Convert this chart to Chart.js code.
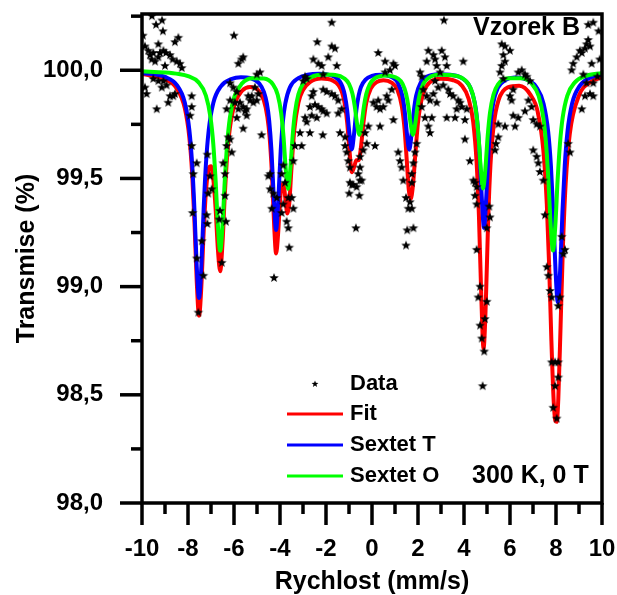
<!DOCTYPE html>
<html>
<head>
<meta charset="utf-8">
<script src="https://cdn.jsdelivr.net/npm/chart.js@4.4.1/dist/chart.umd.min.js"></script>
<style>
  html, body { margin: 0; padding: 0; background: #fff; }
  #chart { display: block; }
</style>
</head>
<body>
<canvas id="chart" width="617" height="595"></canvas>
<script>
// axis ticks
const xMajor = [-10, -8, -6, -4, -2, 0, 2, 4, 6, 8, 10];
const xMinor = [-9, -7, -5, -3, -1, 1, 3, 5, 7, 9];
const yMajor = [98.0, 98.5, 99.0, 99.5, 100.0];
const yMinor = [98.25, 98.75, 99.25, 99.75, 100.25];

// measured points (stars)
const dataX = [
  -9.57,-9.39,-9.13,-9.09,-9.96,-9.87,-9.73,-9.65,-9.51,-9.58,-9.43,-9.29,-9.22,-9.29,-9.07,-8.96,-8.78,-8.67,-8.49,-8.35,-8.57,-8.42,-9.0,-8.27,
  -9.87,-9.80,-9.51,-9.29,-9.07,-9.14,-8.93,-8.78,-8.64,-8.86,-9.36,-8.57,-7.84,-7.91,-7.84,
  -7.84,-7.62,-7.77,-7.16,-7.04,-6.97,-7.12,
  -6.0,-5.81,-5.67,-5.60,-6.17,-6.03,-5.88,-6.17,-5.96,-6.32,-5.81,-5.74,-5.60,-5.45,-5.38,-5.30,-5.23,-5.16,-5.01,-4.94,-5.09,-4.87,-5.01,-5.52,-5.45,-5.88,-5.60,-6.25,-6.17,-6.32,-6.10,-6.47,-6.39,-4.80,-4.43,
  -7.80,-7.62,-7.55,-7.40,-7.33,-7.19,-7.16,-6.61,-6.64,-6.53,-6.35,-6.39,-4.43,-4.36,-4.26,-3.86,-3.71,-3.64,-3.60,-3.93,
  -4.51,-4.29,-4.14,-3.93,-3.78,-3.64,-3.86,
  -3.42,-3.49,-0.99,-0.88,-0.67,-0.55,-0.45,-0.70,1.48,1.65,1.73,1.58,1.53,1.80,1.48,1.73,
  -1.75,-2.38,-1.75,-1.61,-2.55,-2.33,-2.19,-1.90,-1.53,-2.12,-2.91,-2.99,-2.84,
  -2.12,-1.97,-1.75,-1.61,-1.47,-2.55,-2.62,-2.70,-2.48,-2.33,-2.19,-2.62,-2.91,-2.84,-2.40,-2.12,-1.97,-1.47,-1.32,-3.13,
  -2.70,-3.06,-3.35,-3.42,-2.14,-1.39,-1.17,-1.17,-1.10,-1.03,-0.96,-0.96,-0.81,-0.52,-0.60,-0.52,-0.52,-0.38,-0.23,-0.30,
  -0.16,0.13,0.35,0.06,0.20,0.27,0.35,0.49,0.64,0.71,0.86,0.57,0.27,0.57,0.78,0.93,1.0,0.93,
  1.14,1.22,1.29,1.36,1.73,1.80,1.87,1.94,2.09,2.16,2.38,2.45,2.67,2.74,2.81,2.23,2.38,2.52,2.16,2.30,2.45,2.60,2.52,2.67,2.81,2.88,2.74,
  3.13,3.03,3.17,3.97,3.25,2.96,3.10,3.32,3.39,3.53,3.75,3.83,3.90,3.25,3.68,3.61,4.04,4.12,4.04,4.26,
  4.41,4.55,5.64,5.78,6.0,5.71,5.78,5.64,5.57,5.71,6.0,6.14,6.07,6.51,6.36,6.65,6.73,6.87,6.14,6.36,
  6.65,6.80,6.94,7.01,7.16,7.30,5.78,5.49,5.49,5.39,5.35,6.22,7.01,7.16,7.23,7.30,7.45,8.53,8.61,8.75,
  8.68,8.90,9.04,9.12,9.26,9.33,9.40,9.48,9.55,9.40,9.62,9.19,9.33,9.48,9.62,9.26,9.12,9.62,9.85,9.9,9.8,
  4.48,4.48,4.55,5.10,5.13,4.99,4.55,4.70,4.62,4.99,4.70,4.91,4.77,4.88,4.81,
  7.52,7.60,7.67,8.25,8.39,8.32,7.74,7.81,8.17,8.10,7.81,7.96,8.10,7.96,7.88,8.03,8.10
];
const dataY = [
  100.25,100.21,100.23,100.18,100.16,100.11,100.09,100.07,100.08,100.05,100.04,100.06,100.08,100.12,100.09,100.08,100.07,100.05,100.04,100.03,100.13,100.15,100.02,100.01,
  99.92,99.89,99.96,99.95,99.95,99.92,99.93,99.88,99.88,99.85,99.82,99.89,99.88,99.79,99.83,
  99.65,99.57,99.52,99.61,99.51,99.45,99.43,
  100.16,100.03,100.05,100.06,99.94,99.92,99.90,99.86,99.85,99.82,99.82,99.85,99.83,99.82,99.88,99.86,99.88,99.85,99.86,99.89,99.92,99.99,99.98,99.81,99.79,99.78,99.73,99.69,99.68,99.65,99.62,99.57,99.52,99.70,99.52,
  99.34,99.13,98.88,99.21,99.05,99.33,99.29,99.35,99.31,99.11,99.30,99.42,99.45,99.36,99.04,99.38,99.30,99.27,99.18,99.34,
  99.51,99.43,99.41,99.52,99.48,99.41,99.56,
  99.36,99.41,99.43,99.47,99.46,99.42,99.49,99.27,99.41,99.39,99.36,99.36,99.26,99.27,99.19,99.48,
  100.22,100.13,100.11,100.10,100.05,100.03,100.02,100.06,100.02,99.98,99.97,99.95,99.96,
  99.91,99.90,99.89,99.88,99.86,99.90,99.88,99.83,99.84,99.83,99.82,99.79,99.78,99.76,99.78,99.81,99.80,99.80,99.82,99.71,
  99.71,99.65,99.65,99.58,99.70,99.71,99.69,99.65,99.62,99.58,99.55,99.48,99.47,99.49,99.52,99.55,99.60,99.63,99.66,99.71,
  99.74,99.65,99.74,99.85,99.83,99.86,99.82,99.83,99.88,99.86,99.91,99.99,100.08,100.04,100.0,100.03,100.02,99.77,
  99.62,99.58,99.55,99.49,99.52,99.57,99.62,99.66,99.99,99.97,100.04,100.09,100.07,100.05,100.02,99.91,99.88,99.86,99.83,99.78,99.74,99.78,99.71,99.89,99.85,99.92,99.95,
  100.23,100.09,100.06,100.04,100.02,99.99,99.93,99.91,99.89,99.88,99.86,99.85,99.83,99.78,99.82,99.78,99.77,99.82,99.68,99.58,
  99.49,99.46,100.12,100.11,100.09,100.07,100.04,100.02,99.99,99.96,99.88,99.91,99.86,100.0,99.99,99.98,99.97,99.95,99.79,99.78,
  99.81,99.86,99.83,99.77,99.75,99.74,99.74,99.75,99.69,99.66,99.63,99.74,99.63,99.60,99.57,99.53,99.49,99.66,99.62,100.03,
  100.0,100.06,100.09,100.08,100.10,100.12,100.14,100.11,100.03,100.21,100.22,99.98,99.94,99.89,99.88,99.88,99.82,99.94,100.18,100.05,99.97,
  99.48,99.42,99.38,99.37,99.32,99.27,99.17,99.0,98.95,98.93,98.82,98.85,98.76,98.70,98.54,
  99.33,99.09,99.05,99.23,99.17,99.15,98.98,98.95,98.95,98.91,98.65,98.65,98.58,98.54,98.44,98.39,98.65
];

// Fit (red)
const fitX = [
  -10,-9,-8.5,-8.14,-7.94,-7.82,-7.72,-7.62,-7.52,-7.42,-7.32,-7.22,-7.1,-7.0,-6.9,-6.8,-6.7,-6.6,-6.5,-6.4,
  -6.3,-6.18,-5.98,-5.65,-5.3,-5.0,-4.7,-4.55,-4.45,-4.35,-4.25,-4.17,-4.08,-4.0,-3.92,-3.84,-3.76,-3.68,-3.6,-3.5,
  -3.38,-3.2,-3.0,-2.7,-2.2,-1.7,-1.45,-1.3,-1.18,-1.08,-0.98,-0.88,-0.78,-0.68,-0.58,-0.48,-0.38,-0.25,-0.05,0.2,
  0.5,0.85,1.1,1.3,1.42,1.52,1.6,1.68,1.78,1.88,2.0,2.2,2.5,3.0,3.5,3.9,4.2,4.4,4.55,4.65,
  4.75,4.85,4.95,5.05,5.15,5.3,5.5,5.9,6.4,6.9,7.2,7.45,7.6,7.7,7.8,7.9,7.97,8.03,8.1,8.2,
  8.3,8.42,8.6,9.0,9.5,10
];
const fitY = [
  99.983,99.958,99.917,99.825,99.688,99.523,99.302,99.024,98.866,99.0,99.251,99.438,99.546,99.556,99.497,99.362,99.172,99.071,99.201,99.423,
  99.600,99.732,99.841,99.905,99.923,99.913,99.859,99.785,99.689,99.519,99.274,99.153,99.248,99.394,99.473,99.468,99.400,99.338,99.380,99.549,
  99.722,99.850,99.908,99.945,99.962,99.952,99.930,99.896,99.842,99.760,99.632,99.529,99.552,99.584,99.584,99.644,99.750,99.849,99.916,99.945,
  99.954,99.943,99.911,99.832,99.723,99.570,99.446,99.405,99.467,99.605,99.759,99.884,99.943,99.961,99.955,99.930,99.868,99.761,99.571,99.325,
  98.961,98.714,98.930,99.305,99.561,99.754,99.861,99.921,99.928,99.885,99.810,99.630,99.382,99.102,98.749,98.470,98.381,98.375,98.481,98.821,
  99.181,99.476,99.707,99.883,99.945,99.968
];

// Sextet T (blue)
const sextetTX = [
  -10,-9,-8.5,-8.14,-7.94,-7.82,-7.72,-7.62,-7.52,-7.42,-7.32,-7.22,-7.1,-6.9,-6.57,-6.12,-5.7,-5.3,-4.9,-4.7,
  -4.57,-4.47,-4.37,-4.27,-4.17,-4.07,-3.97,-3.87,-3.77,-3.57,-3.2,-2.8,-2.3,-1.9,-1.6,-1.4,-1.28,-1.18,-1.08,-0.98,
  -0.88,-0.78,-0.68,-0.58,-0.48,-0.28,0,0.37,0.65,0.92,1.12,1.32,1.42,1.52,1.62,1.72,1.82,1.92,2.12,2.4,
  2.9,3.4,3.8,4.1,4.27,4.47,4.57,4.67,4.77,4.87,4.97,5.07,5.17,5.27,5.47,5.8,6.2,6.6,6.9,7.13,
  7.46,7.66,7.78,7.88,7.98,8.08,8.18,8.28,8.38,8.5,8.7,9.03,9.48,10
];
const sextetTY = [
  99.988,99.969,99.934,99.851,99.723,99.567,99.357,99.092,98.947,99.092,99.357,99.567,99.722,99.849,99.926,99.959,99.968,99.964,99.939,99.900,
  99.846,99.767,99.627,99.408,99.262,99.408,99.627,99.768,99.846,99.921,99.964,99.979,99.984,99.980,99.968,99.949,99.923,99.884,99.815,99.707,
  99.634,99.707,99.815,99.884,99.923,99.957,99.974,99.979,99.976,99.965,99.943,99.882,99.813,99.705,99.633,99.705,99.813,99.882,99.944,99.971,
  99.982,99.979,99.970,99.948,99.921,99.849,99.772,99.633,99.417,99.272,99.417,99.632,99.771,99.848,99.918,99.955,99.966,99.961,99.947,99.925,
  99.845,99.716,99.557,99.343,99.074,98.927,99.074,99.344,99.558,99.717,99.847,99.928,99.965,99.981
];

// Sextet O (green)
const sextetOX = [
  -10,-9,-8.4,-8.0,-7.55,-7.22,-7.02,-6.9,-6.8,-6.7,-6.6,-6.5,-6.4,-6.3,-6.18,-5.98,-5.65,-5.2,-4.7,-4.3,
  -4.1,-3.95,-3.85,-3.75,-3.65,-3.55,-3.45,-3.35,-3.2,-3.0,-2.65,-2.1,-1.6,-1.2,-1.0,-0.85,-0.75,-0.65,-0.55,-0.45,
  -0.35,-0.25,-0.1,0.1,0.6,1.13,1.33,1.48,1.58,1.68,1.78,1.88,1.98,2.08,2.23,2.43,2.9,3.5,3.9,4.18,
  4.38,4.53,4.63,4.73,4.83,4.93,5.03,5.13,5.28,5.48,5.9,6.5,6.92,7.25,7.45,7.57,7.67,7.77,7.87,7.97,
  8.07,8.17,8.29,8.49,8.82,9.27,10
];
const sextetOY = [
  99.995,99.990,99.983,99.973,99.945,99.882,99.781,99.658,99.492,99.282,99.166,99.282,99.491,99.656,99.780,99.879,99.939,99.963,99.962,99.934,
  99.887,99.802,99.696,99.544,99.452,99.544,99.697,99.804,99.889,99.938,99.968,99.980,99.978,99.962,99.937,99.891,99.834,99.753,99.702,99.752,
  99.833,99.890,99.935,99.961,99.976,99.961,99.937,99.891,99.834,99.753,99.702,99.753,99.834,99.891,99.937,99.962,99.979,99.977,99.965,99.939,
  99.890,99.805,99.698,99.545,99.453,99.545,99.696,99.803,99.887,99.935,99.963,99.963,99.941,99.880,99.780,99.657,99.491,99.282,99.167,99.282,
  99.492,99.658,99.781,99.882,99.944,99.973,99.988
];

const FONT = "'Liberation Sans', Arial, sans-serif";

function zip(xs, ys) {
    const n = Math.min(xs.length, ys.length);
    const out = [];
    for (let i = 0; i < n; i++) out.push({ x: xs[i], y: ys[i] });
    return out;
}

function makeStar(r) {
    const size = Math.ceil(r * 2 + 2);
    const c = document.createElement('canvas');
    c.width = size;
    c.height = size;
    const g = c.getContext('2d');
    g.translate(size / 2, size / 2);
    g.beginPath();
    for (let i = 0; i < 10; i++) {
        const rad = i % 2 === 0 ? r : r * 0.42;
        const a = -Math.PI / 2 + i * Math.PI / 5;
        g.lineTo(rad * Math.cos(a), rad * Math.sin(a));
    }
    g.closePath();
    g.fillStyle = '#000';
    g.fill();
    return c;
}

const starImg = makeStar(5);
const starSmall = makeStar(3.6);

// frame box + outward ticks (major long, minor short)
const frameTicks = {
    id: 'frameTicks',
    afterDatasetsDraw(chart) {
        const { ctx, chartArea: a } = chart;
        const x = chart.scales.x, y = chart.scales.y;
        ctx.save();
        ctx.strokeStyle = '#000';
        ctx.lineWidth = 3.5;
        ctx.strokeRect(a.left, a.top, a.right - a.left, a.bottom - a.top);
        const tick = (vals, len) => {
            vals.forEach(v => {
                const px = x.getPixelForValue(v);
                ctx.beginPath();
                ctx.moveTo(px, a.bottom);
                ctx.lineTo(px, a.bottom + len);
                ctx.stroke();
            });
        };
        const tickY = (vals, len) => {
            vals.forEach(v => {
                const py = y.getPixelForValue(v);
                ctx.beginPath();
                ctx.moveTo(a.left, py);
                ctx.lineTo(a.left - len, py);
                ctx.stroke();
            });
        };
        tick(xMajor, 22);
        tick(xMinor, 11);
        tickY(yMajor, 22);
        tickY(yMinor, 11);
        ctx.restore();
    }
};

// legend inside the plot + the two labels
const legendBox = {
    id: 'legendBox',
    afterDraw(chart) {
        const ctx = chart.ctx;
        ctx.save();
        ctx.textBaseline = 'middle';
        ctx.fillStyle = '#000';
        ctx.font = 'bold 22px ' + FONT;
        ctx.drawImage(starSmall, 315 - starSmall.width / 2, 384 - starSmall.height / 2);
        ctx.fillText('Data', 350, 384);
        const items = chart.data.datasets.slice(1).reverse();
        items.forEach((ds, i) => {
            const yy = 414 + i * 31;
            ctx.strokeStyle = ds.borderColor;
            ctx.lineWidth = 3;
            ctx.beginPath();
            ctx.moveTo(287, yy);
            ctx.lineTo(343, yy);
            ctx.stroke();
            ctx.fillStyle = '#000';
            ctx.fillText(ds.label, 350, yy);
        });
        ctx.font = 'bold 25px ' + FONT;
        ctx.fillText('Vzorek B', 473, 28);
        ctx.fillText('300 K, 0 T', 472, 476);
        ctx.restore();
    }
};

function curve(label, xs, ys, color) {
    return {
        label: label,
        data: zip(xs, ys),
        showLine: true,
        borderColor: color,
        backgroundColor: color,
        borderWidth: 4,
        pointRadius: 0,
        cubicInterpolationMode: 'monotone',
        fill: false
    };
}

// keep the plot box where the picture has it (no label overhang padding)
function noPad(s) {
    s.paddingTop = 0;
    s.paddingBottom = 0;
    s.paddingLeft = 0;
    s.paddingRight = 0;
}

const ctx = document.getElementById('chart').getContext('2d');
const chart = new Chart(ctx, {
    type: 'scatter',
    data: {
        datasets: [
            {
                label: 'Data',
                data: zip(dataX, dataY),
                showLine: false,
                pointStyle: starImg,
                pointRadius: 5
            },
            curve('Sextet O', sextetOX, sextetOY, '#00ff00'),
            curve('Sextet T', sextetTX, sextetTY, '#0000ff'),
            curve('Fit', fitX, fitY, '#ff0000')
        ]
    },
    options: {
        responsive: false,
        animation: false,
        layout: { padding: { top: 14, right: 15, left: 0, bottom: 0 } },
        plugins: {
            legend: { display: false },
            tooltip: { enabled: false }
        },
        scales: {
            x: {
                type: 'linear',
                min: -10,
                max: 10,
                afterBuildTicks: s => { s.ticks = xMajor.map(v => ({ value: v })); },
                afterFit: s => { s.height = 92; noPad(s); },
                grid: { display: false, drawTicks: true, tickLength: 22 },
                border: { display: false },
                ticks: {
                    color: '#000',
                    font: { family: FONT, size: 24, weight: 'bold' },
                    padding: 10,
                    maxRotation: 0,
                    autoSkip: false
                },
                title: {
                    display: true,
                    text: 'Rychlost (mm/s)',
                    color: '#000',
                    font: { family: FONT, size: 25, weight: 'bold', lineHeight: 1 },
                    padding: 0
                }
            },
            y: {
                type: 'linear',
                min: 98,
                max: 100.26,
                afterBuildTicks: s => { s.ticks = yMajor.map(v => ({ value: v })); },
                afterFit: s => { s.width = 142; noPad(s); },
                grid: { display: false, drawTicks: true, tickLength: 22 },
                border: { display: false },
                ticks: {
                    color: '#000',
                    font: { family: FONT, size: 24, weight: 'bold' },
                    padding: 17,
                    callback: v => Number(v).toFixed(1).replace('.', ',')
                },
                title: {
                    display: true,
                    text: 'Transmise (%)',
                    color: '#000',
                    font: { family: FONT, size: 25, weight: 'bold', lineHeight: 1.2 },
                    padding: { top: 12, bottom: 0 }
                }
            }
        }
    },
    plugins: [frameTicks, legendBox]
});
</script>
</body>
</html>
